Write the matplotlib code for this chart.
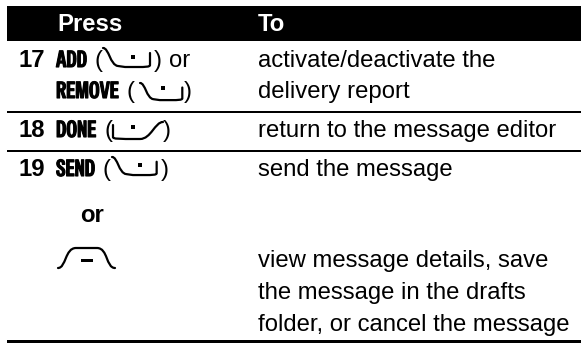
import matplotlib
matplotlib.use('Agg')
import matplotlib.pyplot as plt
import matplotlib.patheffects as pe
from matplotlib.path import Path
from matplotlib.patches import PathPatch, Rectangle

header = ['Press', 'To']
steps = ['17', '18', '19']
keys = ['ADD', 'REMOVE', 'DONE', 'SEND']
joiners = ['or', 'or']
to_lines = ['activate/deactivate the', 'delivery report',
            'return to the message editor', 'send the message',
            'view message details, save', 'the message in the drafts',
            'folder, or cancel the message']

W, H = 581, 343
SANS = 'Liberation Sans'
NARROW = ['Special Gothic Condensed One', 'Liberation Sans']
FS = 17.2

fig = plt.figure(figsize=(W / 100, H / 100), dpi=100)
ax = fig.add_axes([0, 0, 1, 1])
ax.set_xlim(0, W)
ax.set_ylim(H, 0)
ax.axis('off')


def txt(x, y, s, color='black', **kw):
    kw.setdefault('family', SANS)
    kw.setdefault('fontsize', FS)
    return ax.text(x, y, s, va='baseline', ha='left', color=color, **kw)


def icon(x0, y0, sx, sy, verts, codes):
    verts = [(x0 + a * sx, y0 + b * sy) for a, b in verts]
    ax.add_patch(PathPatch(Path(verts, codes), fill=False, ec='black', lw=1.6, capstyle='round'))


M, L, C = Path.MOVETO, Path.LINETO, Path.CURVE4

# softkey outlines, local units, origin at top left of the glyph
RIGHT_KEY = ([(0, 0), (6, 0), (7, 17), (15, 18), (22, 19), (35, 19), (42, 19),
              (47, 19), (47, 17), (47, 5)],
             [M, C, C, C, L, L, C, C, C, L])
LEFT_KEY = ([(0, 3), (0, 15), (0, 17), (5, 17), (27, 17), (38, 17), (42, 0), (50, 0)],
            [M, L, C, C, L, C, C, C])
MENU_KEY = ([(0, 20), (8, 20), (7, 0), (18, 0), (39, 0), (50, 0), (48, 20), (57, 20)],
            [M, C, C, C, L, C, C, C])


def dot(x, y):
    ax.add_patch(Rectangle((x - 2, y - 2), 4, 4, fc='black', ec='none'))


# header band and rules
ax.add_patch(Rectangle((7, 6), W - 7, 35, fc='black', ec='none'))
for y in [112, 151]:
    ax.add_patch(Rectangle((7, y - 1), W - 7, 2, fc='black', ec='none'))
ax.add_patch(Rectangle((7, 340), W - 7, 2.5, fc='black', ec='none'))

txt(57, 31, header[0], color='white', weight='bold')
txt(258, 31, header[1], color='white', weight='bold')

# step numbers
for y, s in zip([67, 137, 176], steps):
    txt(18, y, s, weight='bold')

# softkey names, stroked a little to get the heavy look
for (x, y), s in zip([(56, 67), (56, 98), (56, 137), (56, 176)], keys):
    t = txt(x, y, s, family=NARROW, fontsize=16.5)
    t.set_path_effects([pe.withStroke(linewidth=0.8, foreground='black')])

# brackets round the key glyphs
for x, y in [(94, 67), (126, 98), (104, 137), (102, 176)]:
    txt(x, y, '(')
for x, y in [(154, 67), (184, 98), (163, 137), (161, 176)]:
    txt(x, y, ')')
txt(169, 67, joiners[0])
txt(80, 222, joiners[1], weight='bold')

# key glyphs
icon(103, 48, 1.0, 1.0, *RIGHT_KEY)
dot(133, 57)
icon(140, 83, 0.9, 0.9, *RIGHT_KEY)
dot(163, 88)
icon(113, 122, 1.0, 1.0, *LEFT_KEY)
dot(133, 127)
icon(112, 157, 0.95, 0.95, *RIGHT_KEY)
dot(140, 165)
icon(58, 248, 1.0, 1.0, *MENU_KEY)
ax.add_patch(Rectangle((81, 258.5), 12, 3, fc='black', ec='none'))

# right column
for y, s in zip([67, 98, 137, 176, 267, 299, 331], to_lines):
    txt(258, y, s)

fig.savefig('out.png', dpi=100)
